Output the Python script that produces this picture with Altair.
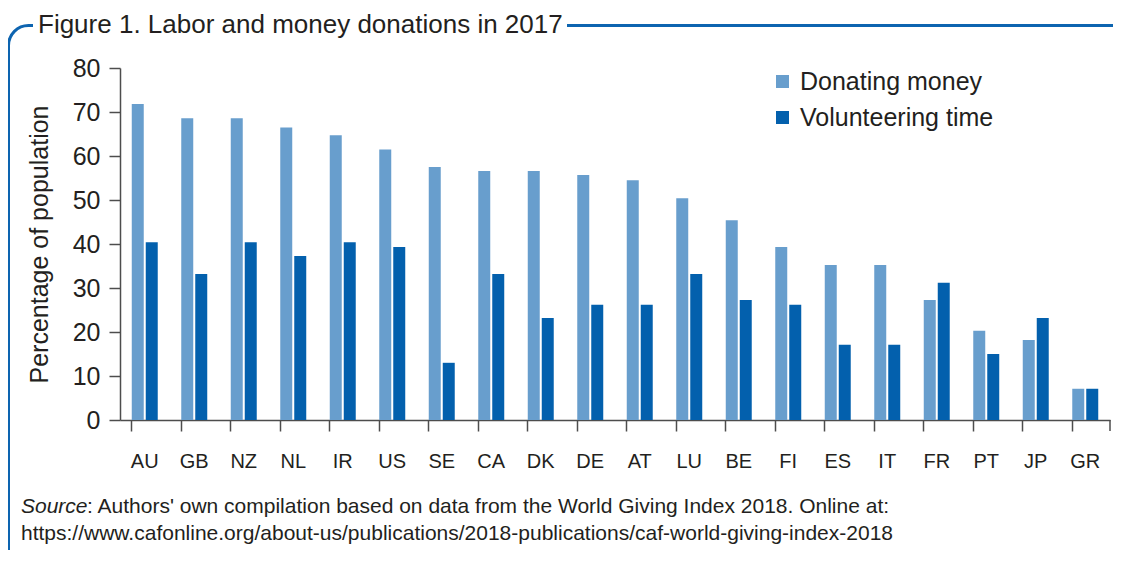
import altair as alt
import pandas as pd

countries = ["AU", "GB", "NZ", "NL", "IR", "US", "SE", "CA", "DK", "DE",
             "AT", "LU", "BE", "FI", "ES", "IT", "FR", "PT", "JP", "GR"]
donating_money = [71.8, 68.6, 68.6, 66.5, 64.7, 61.5, 57.5, 56.6, 56.6, 55.7,
                  54.5, 50.4, 45.4, 39.3, 35.2, 35.2, 27.3, 20.3, 18.2, 7.1]
volunteering_time = [40.4, 33.2, 40.4, 37.3, 40.4, 39.3, 13.0, 33.2, 23.2, 26.2,
                     26.2, 33.2, 27.3, 26.2, 17.1, 17.1, 31.2, 15.0, 23.2, 7.1]
series_names = ["Donating money", "Volunteering time"]
series_colors = ["#689ecd", "#0360ad"]
y_ticks = [0, 10, 20, 30, 40, 50, 60, 70, 80]

title_text = "Figure 1. Labor and money donations in 2017"
y_title = "Percentage of population"
source_label = "Source"
source_line1 = ": Authors' own compilation based on data from the World Giving Index 2018. Online at:"
source_line2 = "https://www.cafonline.org/about-us/publications/2018-publications/caf-world-giving-index-2018"

FONT = "Liberation Sans"
TEXT = "#231f20"
AXIS = "#4d4d4d"
FRAME = "#0d64b0"

rows = []
for i, c in enumerate(countries):
    rows.append({"country": c, "series": series_names[0], "value": donating_money[i]})
    rows.append({"country": c, "series": series_names[1], "value": volunteering_time[i]})
df = pd.DataFrame(rows)

W, H = 990, 352

one = pd.DataFrame({"k": [0]})

frame = alt.Chart(one).mark_rect(
    fillOpacity=0, stroke=FRAME, strokeWidth=3, cornerRadius=20
).encode(x=alt.value(-111.5), x2=alt.value(1012), y=alt.value(-42.5), y2=alt.value(509))

title_bg = alt.Chart(one).mark_rect(color="white").encode(
    x=alt.value(-87), x2=alt.value(447), y=alt.value(-52), y2=alt.value(-18))

title = alt.Chart(one).mark_text(
    text=title_text, font=FONT, fontSize=26, color=TEXT, align="left", baseline="alphabetic"
).encode(x=alt.value(-82), y=alt.value(-34.7))

bars = alt.Chart(df).mark_bar().encode(
    x=alt.X("country:N", sort=countries,
            scale=alt.Scale(paddingInner=0.475, paddingOuter=0.2375),
            axis=alt.Axis(title=None, labelAngle=0, bandPosition=0, tickSize=11,
                          labelPadding=20, labelFontSize=20, labelFont=FONT,
                          labelColor=TEXT, domainColor=AXIS, tickColor=AXIS,
                          domainWidth=1.5, tickWidth=1.5)),
    xOffset=alt.XOffset("series:N", sort=series_names,
                        scale=alt.Scale(paddingInner=0.143, paddingOuter=0)),
    y=alt.Y("value:Q", scale=alt.Scale(domain=[0, 80], nice=False),
            axis=alt.Axis(values=y_ticks, title=y_title, grid=False, tickSize=11,
                          labelPadding=9, labelFontSize=25, labelFont=FONT,
                          labelColor=TEXT, titleFont=FONT, titleFontSize=25,
                          titleFontWeight="normal", titleColor=TEXT, titlePadding=20,
                          domainColor=AXIS, tickColor=AXIS, domainWidth=1.5, tickWidth=1.5)),
    color=alt.Color("series:N", sort=series_names,
                    scale=alt.Scale(domain=series_names, range=series_colors),
                    legend=alt.Legend(orient="none", legendX=650, legendY=1, title=None,
                                      symbolType="square", symbolSize=169,
                                      symbolStrokeWidth=0, labelFontSize=25, labelFont=FONT,
                                      labelColor=TEXT, rowPadding=10, labelOffset=5,
                                      labelLimit=0, padding=0)),
)

end_tick = alt.Chart(one).mark_rule(color=AXIS, strokeWidth=1.5).encode(
    x=alt.value(W), y=alt.value(H), y2=alt.value(H + 11))

src_a = alt.Chart(one).mark_text(
    text=source_label, font=FONT, fontSize=21, fontStyle="italic", color=TEXT,
    align="left", baseline="alphabetic").encode(x=alt.value(-99), y=alt.value(445))
src_b = alt.Chart(one).mark_text(
    text=source_line1, font=FONT, fontSize=21, color=TEXT,
    align="left", baseline="alphabetic").encode(x=alt.value(-33), y=alt.value(445))
src_c = alt.Chart(one).mark_text(
    text=source_line2, font=FONT, fontSize=21, color=TEXT,
    align="left", baseline="alphabetic").encode(x=alt.value(-99), y=alt.value(471.5))

chart = alt.layer(frame, title_bg, title, bars, end_tick, src_a, src_b, src_c).properties(
    width=W, height=H,
    autosize=alt.AutoSizeParams(type="none"),
    padding={"left": 112, "top": 60, "right": 3, "bottom": 130},
).configure(font=FONT).configure_view(strokeWidth=0, stroke="transparent")

chart.save("out.html", embed_options={"renderer": "svg", "actions": False})
